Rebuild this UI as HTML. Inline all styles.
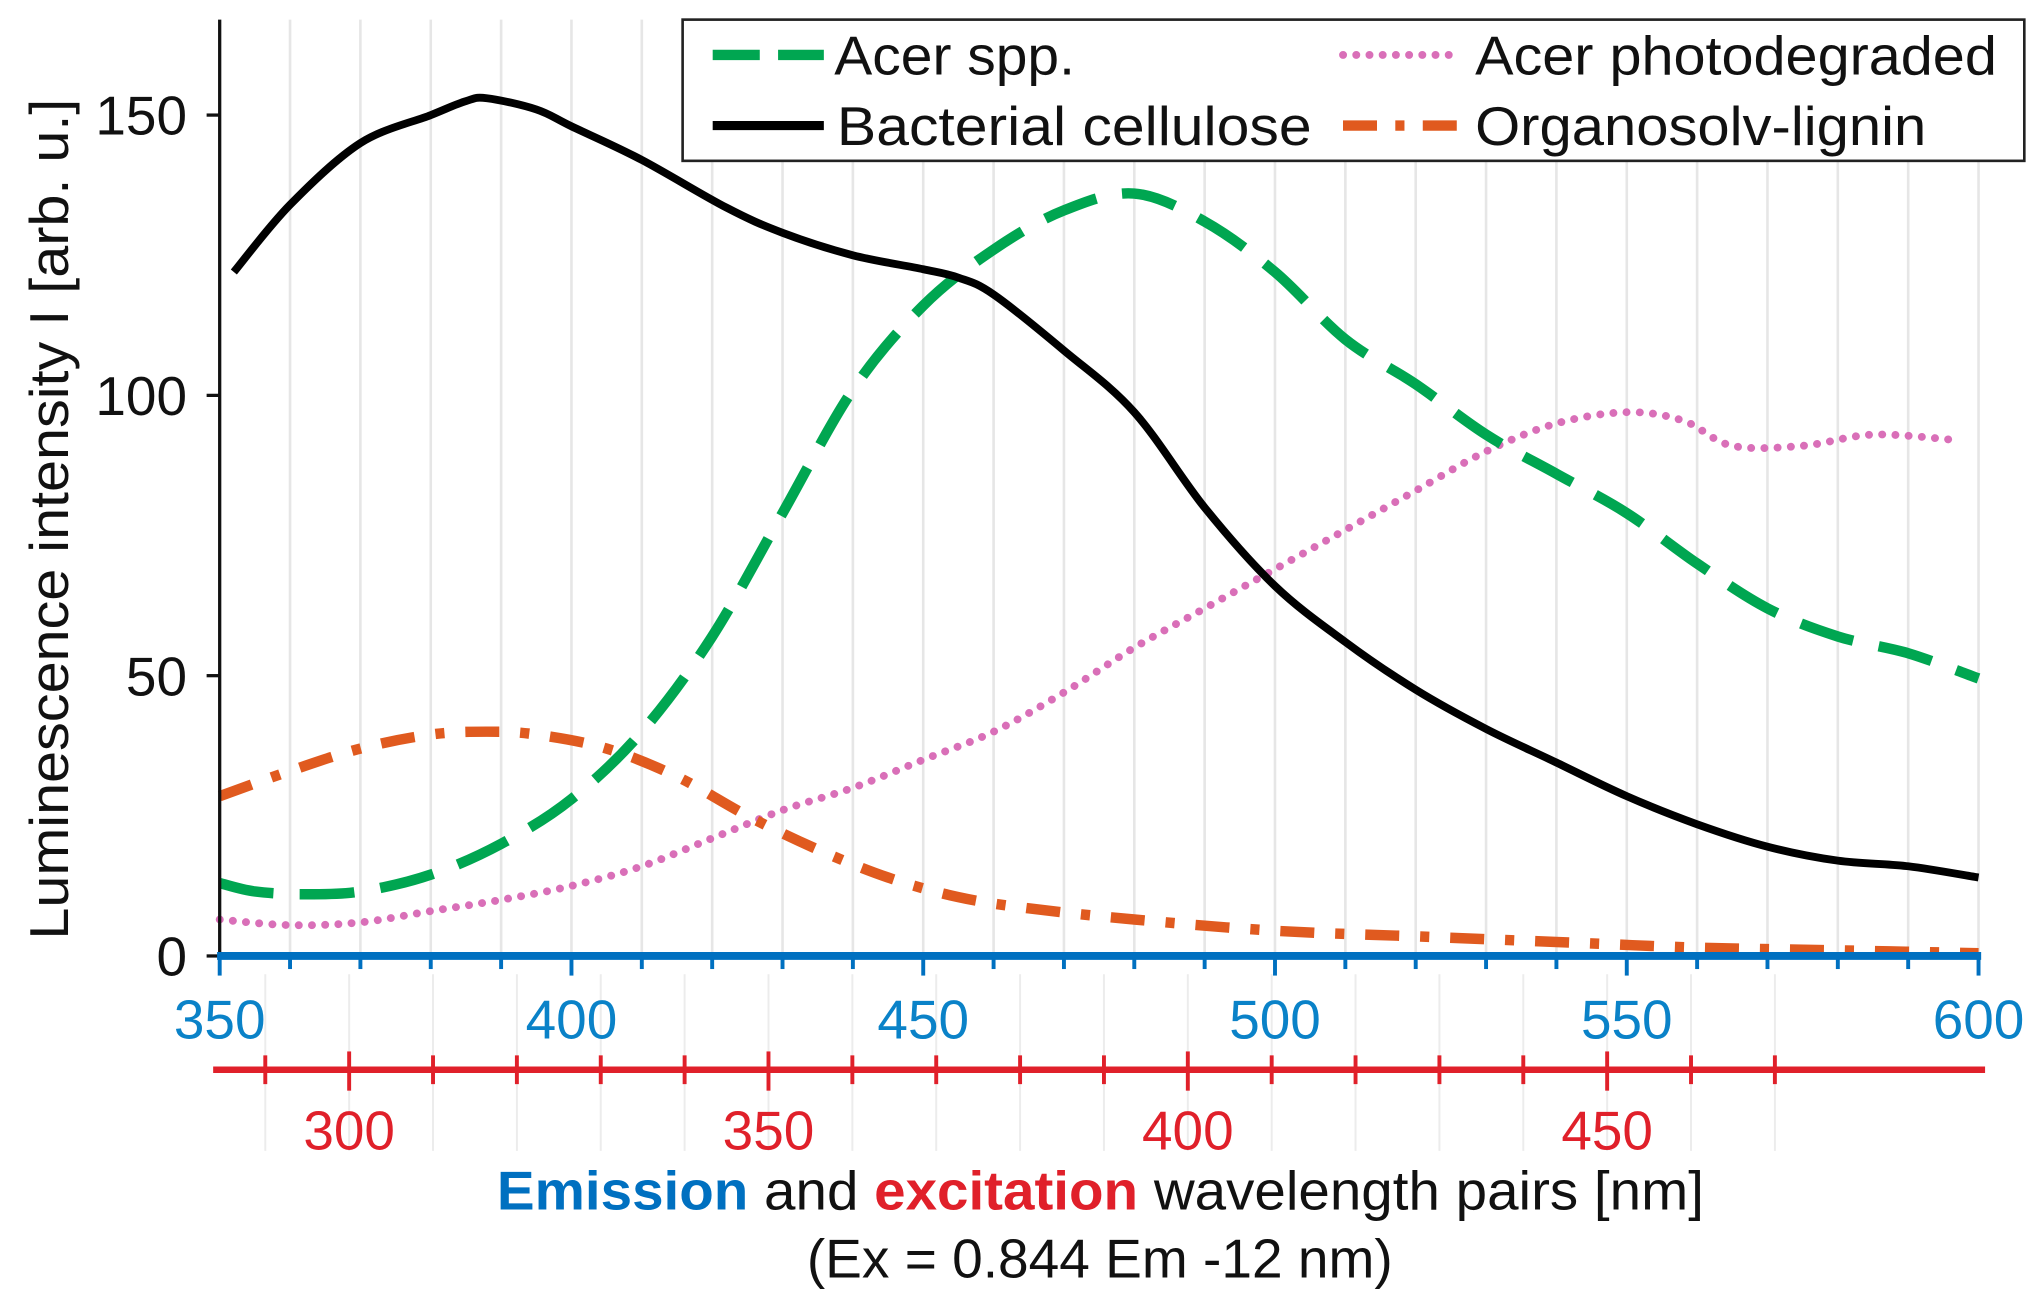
<!DOCTYPE html>
<html><head><meta charset="utf-8"><style>
html,body{margin:0;padding:0;background:#fff}
svg{display:block}
text{font-family:"Liberation Sans Narrow","Liberation Sans",sans-serif}
</style></head><body>
<svg id="chart" width="2040" height="1302" viewBox="0 0 1560 995.6" preserveAspectRatio="none" xmlns="http://www.w3.org/2000/svg">
<g id="grid"></g>
<g id="series"></g>
<g id="axes"></g>
<text transform="translate(52,397) rotate(-90)" text-anchor="middle" font-size="42" fill="#111" textLength="643" lengthAdjust="spacingAndGlyphs">Luminescence intensity I [arb. u.]</text>
<text x="380" y="925" font-size="42" fill="#111" textLength="923" lengthAdjust="spacingAndGlyphs"><tspan fill="#0070c0" font-weight="bold">Emission</tspan> and <tspan fill="#e0202a" font-weight="bold">excitation</tspan> wavelength pairs [nm]</text>
<text x="617" y="977" font-size="42" fill="#111" textLength="448" lengthAdjust="spacingAndGlyphs">(Ex = 0.844 Em -12 nm)</text>
<g>
<rect x="522" y="15" width="1026" height="108" fill="#fff" stroke="#222" stroke-width="2"/>
<line x1="545" y1="42" x2="630" y2="42" stroke="#00a651" stroke-width="8" stroke-dasharray="36,14"/>
<text x="638" y="57" font-size="42" fill="#111" textLength="184" lengthAdjust="spacingAndGlyphs">Acer spp.</text>
<line x1="1027" y1="42" x2="1115" y2="42" stroke="#d96fb8" stroke-width="6" stroke-dasharray="0.1,10" stroke-linecap="round"/>
<text x="1128" y="57" font-size="42" fill="#111" textLength="399" lengthAdjust="spacingAndGlyphs">Acer photodegraded</text>
<line x1="545" y1="96" x2="630" y2="96" stroke="#000" stroke-width="7"/>
<text x="640" y="111" font-size="42" fill="#111" textLength="363" lengthAdjust="spacingAndGlyphs">Bacterial cellulose</text>
<line x1="1027" y1="96" x2="1115" y2="96" stroke="#e05a1f" stroke-width="8" stroke-dasharray="26,14,7,14"/>
<text x="1128" y="111" font-size="42" fill="#111" textLength="345" lengthAdjust="spacingAndGlyphs">Organosolv-lignin</text>
</g>
</svg>
<script>
const emTicks=[350,400,450,500,550,600];
const exTicks=[300,350,400,450];
const yTicks=[0,50,100,150];
const bcX=[352,360,370,380,385,388,395,400,410,422,430,440,450,455,460,470,480,490,500,510,520,530,540,550,560,570,580,590,600];
const bcY=[122,134,145,150,152.5,153,151,148,142,133.5,129,125,122.5,121,118,108,97,80,66,56,47.5,40.5,34.5,28.5,23.5,19.5,17,16,14];
const acerX=[350,355,362,370,380,390,400,410,420,430,440,450,460,470,480,490,500,510,520,530,540,550,560,570,580,590,600];
const acerY=[13,11.5,11,11.5,14.5,20,28,40,57,79,101,116,126,133,136,131,122,110,102,93,86,79,70,62,57,54,49.5];
const photoX=[350,360,370,380,390,400,410,420,430,440,450,460,470,480,490,500,510,520,530,540,550,558,565,575,585,597];
const photoY=[6.5,5.5,6,8,10,12.5,16,21,26,30,35,40,47,55,62,69,76,83,90,95,97,95.5,91,91,93,92];
const ligX=[350,360,370,380,388,395,405,415,425,435,445,455,465,480,500,520,540,560,580,600];
const ligY=[28.5,33,37,39.5,40,39.5,37,32,25,19,14,10.5,8.5,6.5,4.5,3.5,2.5,1.5,1,0.5];
const NS="http://www.w3.org/2000/svg";
const xS=v=>168+(v-350)*(1513-168)/250;
const yS=v=>731-v*(731-88)/150;
const exS=v=>267+(v-300)*(1229-267)/150;
function mk(tag,attrs,parent){const e=document.createElementNS(NS,tag);for(const k in attrs)e.setAttribute(k,attrs[k]);parent.appendChild(e);return e;}
const grid=document.getElementById('grid'),axes=document.getElementById('axes'),ser=document.getElementById('series');
for(let v=360;v<=600;v+=10){const l=mk('line',{x1:xS(v),x2:xS(v),y1:15,y2:731,stroke:'#e6e6e6','stroke-width':2},grid);

}
for(let v=290;v<=470;v+=10){const l=mk('line',{x1:exS(v),x2:exS(v),y1:745,y2:880,stroke:'#ececec','stroke-width':1.5},grid);

}
function path(xs,ys,attrs,name){
const P=xs.map((x,i)=>[xS(x),yS(ys[i])]);
let d='M'+P[0][0].toFixed(1)+','+P[0][1].toFixed(1);
for(let i=0;i<P.length-1;i++){const p0=P[i-1]||P[i],p1=P[i],p2=P[i+1],p3=P[i+2]||P[i+1];
const c1=[p1[0]+(p2[0]-p0[0])/6,p1[1]+(p2[1]-p0[1])/6],c2=[p2[0]-(p3[0]-p1[0])/6,p2[1]-(p3[1]-p1[1])/6];
d+='C'+c1.map(n=>n.toFixed(1)).join(',')+' '+c2.map(n=>n.toFixed(1)).join(',')+' '+p2.map(n=>n.toFixed(1)).join(',');}
const p=mk('path',Object.assign({d:d,fill:'none','stroke-linejoin':'round'},attrs),ser);

}
path(photoX,photoY,{stroke:'#d96fb8','stroke-width':6,'stroke-dasharray':'0.1,10','stroke-linecap':'round'},'series-acer-photodegraded');
path(ligX,ligY,{stroke:'#e05a1f','stroke-width':8,'stroke-dasharray':'26,16,7,16'},'series-organosolv-lignin');
path(acerX,acerY,{stroke:'#00a651','stroke-width':8,'stroke-dasharray':'42,20'},'series-acer-spp');
path(bcX,bcY,{stroke:'#000','stroke-width':6},'series-bacterial-cellulose');
let ya=mk('line',{x1:168,x2:168,y1:15,y2:733,stroke:'#111','stroke-width':2.5},axes);


yTicks.forEach(v=>{const t=mk('line',{x1:158,x2:168,y1:yS(v),y2:yS(v),stroke:'#111','stroke-width':2.5},axes);


const tx=mk('text',{x:143,y:yS(v)+15,'text-anchor':'end','font-size':42,fill:'#111'},axes);tx.textContent=v;

});
let xa=mk('line',{x1:166,x2:1515,y1:731,y2:731,stroke:'#0070c0','stroke-width':6},axes);


for(let v=350;v<=600;v+=10){const t=mk('line',{x1:xS(v),x2:xS(v),y1:731,y2:v%50===0?746:741,stroke:'#0070c0','stroke-width':3},axes);

}
emTicks.forEach(v=>{const tx=mk('text',{x:xS(v),y:794,'text-anchor':'middle','font-size':42,fill:'#0a82c8'},axes);tx.textContent=v;

});
let ea=mk('line',{x1:163,x2:1518,y1:818,y2:818,stroke:'#e0202a','stroke-width':5},axes);


for(let v=290;v<=470;v+=10){const big=v%50===0;const t=mk('line',{x1:exS(v),x2:exS(v),y1:big?804:807,y2:big?834:829,stroke:'#e0202a','stroke-width':3},axes);

}
exTicks.forEach(v=>{const tx=mk('text',{x:exS(v),y:879,'text-anchor':'middle','font-size':42,fill:'#e0202a'},axes);tx.textContent=v;

});
</script>
</body></html>
